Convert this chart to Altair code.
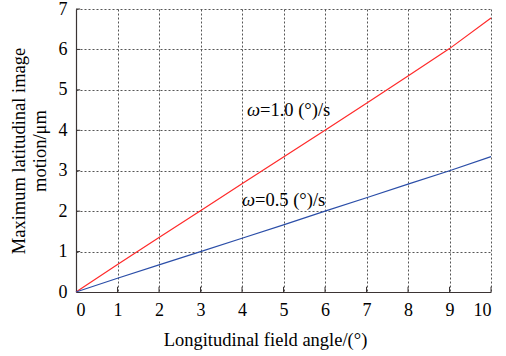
import altair as alt
import pandas as pd

x_vals = [0, 1, 2, 3, 4, 5, 6, 7, 8, 9, 10]
red_vals = [0, 0.68, 1.35, 2.01, 2.68, 3.34, 4.0, 4.67, 5.34, 6.02, 6.78]
blue_vals = [0, 0.34, 0.67, 1.0, 1.33, 1.66, 2.0, 2.33, 2.67, 3.0, 3.35]
series_names = ["ω=1.0 (°)/s", "ω=0.5 (°)/s"]
label_x = [4.12, 4.0]
label_y = [4.5, 2.27]
label_rest = ["=1.0 (°)/s", "=0.5 (°)/s"]

FONT = "Liberation Serif"
AX = "#3b3434"

rows = []
for xv, r, b in zip(x_vals, red_vals, blue_vals):
    rows.append({"x": xv, "y": r, "s": series_names[0]})
    rows.append({"x": xv, "y": b, "s": series_names[1]})
df = pd.DataFrame(rows)

xs = alt.Scale(domain=[0, 10], nice=False)
ys = alt.Scale(domain=[0, 7], nice=False)

lines = alt.Chart(df).mark_line(strokeWidth=1.2).encode(
    x=alt.X("x:Q", scale=xs,
            axis=alt.Axis(values=list(range(0, 11)), title="Longitudinal field angle/(°)",
                          grid=True, gridDash=[2, 2], gridColor="#555", gridWidth=1,
                          ticks=False, labelPadding=9, titlePadding=11, titleX=189,
                          domainColor=AX, domainWidth=1.2)),
    y=alt.Y("y:Q", scale=ys,
            axis=alt.Axis(values=list(range(0, 8)), title=["Maximum latitudinal image", "motion/μm"],
                          grid=True, gridDash=[2, 2], gridColor="#555", gridWidth=1,
                          ticks=False, labelPadding=9, titlePadding=9,
                          domainColor=AX, domainWidth=1.2)),
    color=alt.Color("s:N", scale=alt.Scale(domain=series_names, range=["#ff2a2a", "#2b4ea8"]), legend=None),
)

tx = pd.DataFrame({"x": [v for v in x_vals[1:]], "y0": [0] * 10, "y1": [0.13] * 10})
xticks = alt.Chart(tx).mark_rule(color=AX, strokeWidth=1).encode(
    x=alt.X("x:Q", scale=xs), y=alt.Y("y0:Q", scale=ys), y2="y1:Q")
ty = pd.DataFrame({"y": list(range(1, 8)), "x0": [0] * 7, "x1": [0.1] * 7})
yticks = alt.Chart(ty).mark_rule(color=AX, strokeWidth=1).encode(
    y=alt.Y("y:Q", scale=ys), x=alt.X("x0:Q", scale=xs), x2="x1:Q")

lab = pd.DataFrame({"x": label_x, "y": label_y, "rest": label_rest})
omega = alt.Chart(lab).mark_text(font=FONT, fontSize=18.5, fontStyle="italic", align="left",
                                 baseline="middle", color="black").encode(
    x=alt.X("x:Q", scale=xs), y=alt.Y("y:Q", scale=ys), text=alt.value("ω"))
rest = alt.Chart(lab).mark_text(font=FONT, fontSize=18.5, align="left", dx=13,
                                baseline="middle", color="black").encode(
    x=alt.X("x:Q", scale=xs), y=alt.Y("y:Q", scale=ys), text="rest:N")

chart = alt.layer(lines, xticks, yticks, omega, rest).properties(
    width=415, height=283,
    autosize=alt.AutoSizeParams(type="none"),
    padding={"left": 76, "top": 9, "right": 15, "bottom": 64},
).configure_axis(
    labelFont=FONT, titleFont=FONT, labelFontSize=18, titleFontSize=18.5,
    labelColor="black", titleColor="black", titleFontWeight="normal",
).configure_view(stroke=None)

chart.save("out.html", embed_options={"renderer": "svg", "actions": False})
